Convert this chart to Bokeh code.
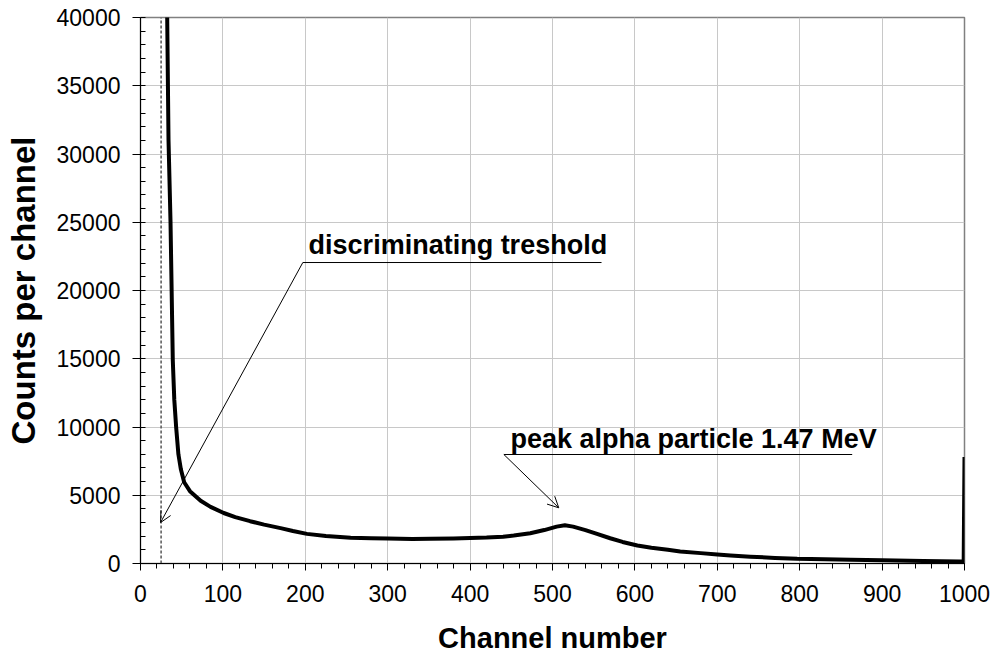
from bokeh.plotting import figure
from bokeh.models import (Range1d, SingleIntervalTicker, BasicTickFormatter,
                          Arrow, OpenHead, Label)
from bokeh.embed import file_html
from bokeh.resources import INLINE

# ---- data ----
channels = [30, 32.4, 34, 36.4, 39.2, 41, 43.3, 46, 49, 53, 60, 73, 85, 101, 115,
            133, 150, 170, 185, 202, 225, 255, 280, 300, 330, 352, 380, 400, 420,
            440, 453, 473, 490, 505, 515, 525, 540, 554, 570, 585, 603, 620, 640,
            655, 680, 700, 716, 740, 770, 797, 830, 862, 900, 950, 995, 999, 1000]
counts = [60000, 40000, 31000, 25100, 14870, 12000, 9960, 8000, 6900, 5950, 5300,
          4600, 4150, 3700, 3400, 3100, 2850, 2590, 2380, 2170, 2020, 1880, 1850,
          1840, 1800, 1810, 1830, 1870, 1900, 1960, 2050, 2220, 2450, 2700, 2800,
          2700, 2450, 2170, 1850, 1580, 1320, 1150, 1000, 880, 760, 660, 590, 500,
          410, 340, 310, 280, 240, 190, 150, 150, 7800]

threshold_channel = 25
x_tick_step = 100
y_tick_step = 5000

thr_text = "discriminating treshold"
thr_text_pos = (204, 23300)
thr_line = (197, 22050, 559.5)          # x_start, y, x_end of underline
thr_arrow_end = (24.3, 3000)

peak_text = "peak alpha particle 1.47 MeV"
peak_text_pos = (449, 9100)
peak_line = (441, 7985, 863.7)
peak_arrow_end = (507.6, 4080)

FONT = "Liberation Sans"

p = figure(width=992, height=660, output_backend="svg", toolbar_location=None,
           x_range=Range1d(0, 1000), y_range=Range1d(0, 40000),
           min_border_left=140, min_border_right=28, min_border_top=17,
           min_border_bottom=97)
p.background_fill_color = "white"
p.border_fill_color = "white"
p.outline_line_color = "#808080"
p.outline_line_width = 1.5

# grid
p.xgrid.grid_line_color = "#c8c8c8"
p.ygrid.grid_line_color = "#c8c8c8"
p.xgrid.grid_line_width = 1
p.ygrid.grid_line_width = 1

# axes
p.xaxis.ticker = SingleIntervalTicker(interval=x_tick_step, num_minor_ticks=5)
p.yaxis.ticker = SingleIntervalTicker(interval=y_tick_step, num_minor_ticks=5)
p.yaxis.formatter = BasicTickFormatter(use_scientific=False)
p.xaxis.formatter = BasicTickFormatter(use_scientific=False)
for ax in (p.xaxis, p.yaxis):
    ax.axis_line_color = "black"
    ax.axis_line_width = 1
    ax.major_tick_line_color = "black"
    ax.minor_tick_line_color = "black"
    ax.major_label_text_font = FONT
    ax.major_label_text_font_size = "23px"
    ax.major_label_text_color = "black"
    ax.axis_label_text_font = FONT
    ax.axis_label_text_font_style = "bold"
    ax.axis_label_text_color = "black"

p.xaxis.major_tick_out = 7
p.xaxis.major_tick_in = 0
p.xaxis.minor_tick_out = 5
p.xaxis.minor_tick_in = 0
p.yaxis.major_tick_out = 8
p.yaxis.major_tick_in = 0
p.yaxis.minor_tick_out = 0
p.yaxis.minor_tick_in = 5

p.xaxis.axis_label = "Channel number"
p.yaxis.axis_label = "Counts per channel"
p.xaxis.axis_label_text_font_size = "29px"
p.yaxis.axis_label_text_font_size = "33px"
p.xaxis.major_label_standoff = 14
p.yaxis.major_label_standoff = 12
p.xaxis.axis_label_standoff = 17
p.yaxis.axis_label_standoff = 12

# threshold dashed line
p.line([threshold_channel, threshold_channel], [0, 40000], line_color="#555555",
       line_width=1.5, line_dash="3 2")

# spectrum
p.line(channels, counts, line_color="black", line_width=4, line_join="round")

# annotations
p.segment(x0=[thr_line[0], peak_line[0]], y0=[thr_line[1], peak_line[1]],
          x1=[thr_line[2], peak_line[2]], y1=[thr_line[1], peak_line[1]],
          line_color="black", line_width=1)
p.add_layout(Arrow(end=OpenHead(size=11, line_width=1, line_color="black"),
                   x_start=thr_line[0], y_start=thr_line[1],
                   x_end=thr_arrow_end[0], y_end=thr_arrow_end[1],
                   line_color="black", line_width=1))
p.add_layout(Arrow(end=OpenHead(size=11, line_width=1, line_color="black"),
                   x_start=peak_line[0], y_start=peak_line[1],
                   x_end=peak_arrow_end[0], y_end=peak_arrow_end[1],
                   line_color="black", line_width=1))

for txt, pos in ((thr_text, thr_text_pos), (peak_text, peak_text_pos)):
    p.add_layout(Label(x=pos[0], y=pos[1], text=txt, text_font=FONT,
                       text_font_style="bold", text_font_size="27px",
                       text_baseline="alphabetic", text_align="left",
                       text_color="black"))

open("out.html", "w").write(file_html(p, INLINE))
